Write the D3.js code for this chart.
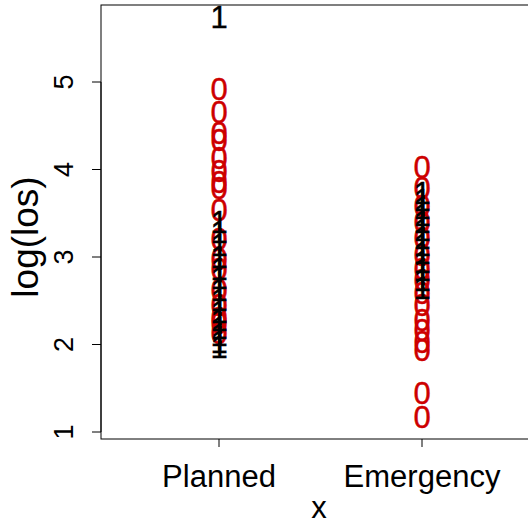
<!DOCTYPE html>
<html>
<head>
<meta charset="utf-8">
<script src="https://cdn.jsdelivr.net/npm/d3@7"></script>
<style>
  body { margin: 0; background: #fff; }
  svg { display: block; }
</style>
</head>
<body>
<div id="chart"></div>
<script>
// categories on the x axis
const categories = ["Planned", "Emergency"];
const yTicks = [1, 2, 3, 4, 5];

// log(los) values, label "0" (red) and "1" (black)
const planned0 = [4.92, 4.66, 4.42, 4.34, 4.13, 3.99, 3.86, 3.79, 3.54, 3.21, 2.98, 2.87, 2.62, 2.45, 2.31, 2.25, 2.13];
const planned1 = [5.74, 3.40, 3.29, 3.14, 3.00, 2.87, 2.76, 2.62, 2.51, 2.37, 2.28, 2.19, 2.11, 2.03, 1.97];
const emergency0 = [4.03, 3.79, 3.59, 3.40, 3.22, 3.02, 2.87, 2.74, 2.59, 2.45, 2.28, 2.17, 2.03, 1.94, 1.45, 1.17];
const emergency1 = [3.73, 3.65, 3.56, 3.48, 3.40, 3.31, 3.22, 3.14, 3.05, 2.94, 2.85, 2.74, 2.65];

const width = 528, height = 527;
const font = "'Liberation Sans', Arial, Helvetica, sans-serif";

const svg = d3.select("#chart").append("svg")
  .attr("width", width)
  .attr("height", height)
  .attr("font-family", font);

const x = d3.scaleLinear().domain([1, 2]).range([219, 422]);
const y = d3.scaleLinear().domain([1, 5]).range([432, 82]);

// plot box (runs past the right edge like the original)
const box = { left: 101, top: 5, right: 540, bottom: 439 };
svg.append("rect")
  .attr("x", box.left).attr("y", box.top)
  .attr("width", box.right - box.left).attr("height", box.bottom - box.top)
  .attr("fill", "none").attr("stroke", "#000").attr("stroke-width", 1);

// y axis
const gy = svg.append("g");
gy.append("line")
  .attr("x1", box.left).attr("x2", box.left)
  .attr("y1", y(1)).attr("y2", y(5))
  .attr("stroke", "#000");
yTicks.forEach(t => {
  gy.append("line")
    .attr("x1", box.left - 9).attr("x2", box.left)
    .attr("y1", y(t)).attr("y2", y(t))
    .attr("stroke", "#000");
  gy.append("text")
    .attr("transform", `translate(73,${y(t)}) rotate(-90)`)
    .attr("text-anchor", "middle")
    .attr("font-size", 27)
    .text(t);
});

// x axis
categories.forEach((c, i) => {
  svg.append("line")
    .attr("x1", x(i + 1)).attr("x2", x(i + 1))
    .attr("y1", box.bottom).attr("y2", box.bottom + 8)
    .attr("stroke", "#000");
  svg.append("text")
    .attr("x", x(i + 1)).attr("y", 487)
    .attr("text-anchor", "middle")
    .attr("font-size", 31)
    .text(c);
});

// axis titles
svg.append("text")
  .attr("x", 319).attr("y", 518)
  .attr("text-anchor", "middle")
  .attr("font-size", 31)
  .text("x");
svg.append("text")
  .attr("transform", `translate(38,237) rotate(-90)`)
  .attr("text-anchor", "middle")
  .attr("font-size", 37)
  .text("log(los)");

// points drawn as text labels
const fs = 31;
function drawLabels(vals, xi, label, color) {
  svg.append("g").selectAll("text")
    .data(vals)
    .join("text")
    .attr("x", x(xi))
    .attr("y", d => y(d) + fs * 0.36)
    .attr("text-anchor", "middle")
    .attr("font-size", fs)
    .attr("fill", color)
    .attr("stroke", color)
    .attr("stroke-width", 0.4)
    .text(label);
}
drawLabels(planned0, 1, "0", "#cd0000");
drawLabels(emergency0, 2, "0", "#cd0000");
drawLabels(planned1, 1, "1", "#000");
drawLabels(emergency1, 2, "1", "#000");
</script>
</body>
</html>
